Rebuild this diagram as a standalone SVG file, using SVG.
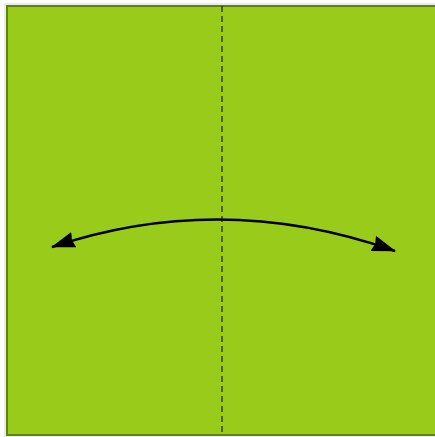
<svg xmlns="http://www.w3.org/2000/svg" width="435" height="437" viewBox="0 0 435 437">
<defs>
<style>
.paper{fill:#99cc1a;stroke:#5e8410;stroke-width:2}
.fold{stroke:#1c2606;stroke-width:1.2;stroke-dasharray:6 4;fill:none}
.arrow{stroke:#000;stroke-width:2.4;fill:none}
</style>
<marker id="ah" viewBox="0 0 24 16" refX="23" refY="8" markerWidth="24" markerHeight="16" markerUnits="userSpaceOnUse" orient="auto-start-reverse">
<path d="M0,0 L24,8 L0,16 L2,8 Z" fill="#000"/>
</marker>
</defs>
<rect x="0" y="0" width="435" height="437" fill="#ffffff"/>
<rect x="5" y="4" width="432" height="433" fill="none" stroke="#d8d8d8" stroke-width="1"/>
<g id="paper">
<rect class="paper" x="7" y="6" width="430" height="429"/>
</g>
<g id="fold-line">
<line class="fold" x1="222" y1="6" x2="222" y2="435"/>
</g>
<g id="connectors">
<path class="arrow" d="M52,247 Q222,190 395,251" marker-start="url(#ah)" marker-end="url(#ah)"/>
</g>
</svg>
